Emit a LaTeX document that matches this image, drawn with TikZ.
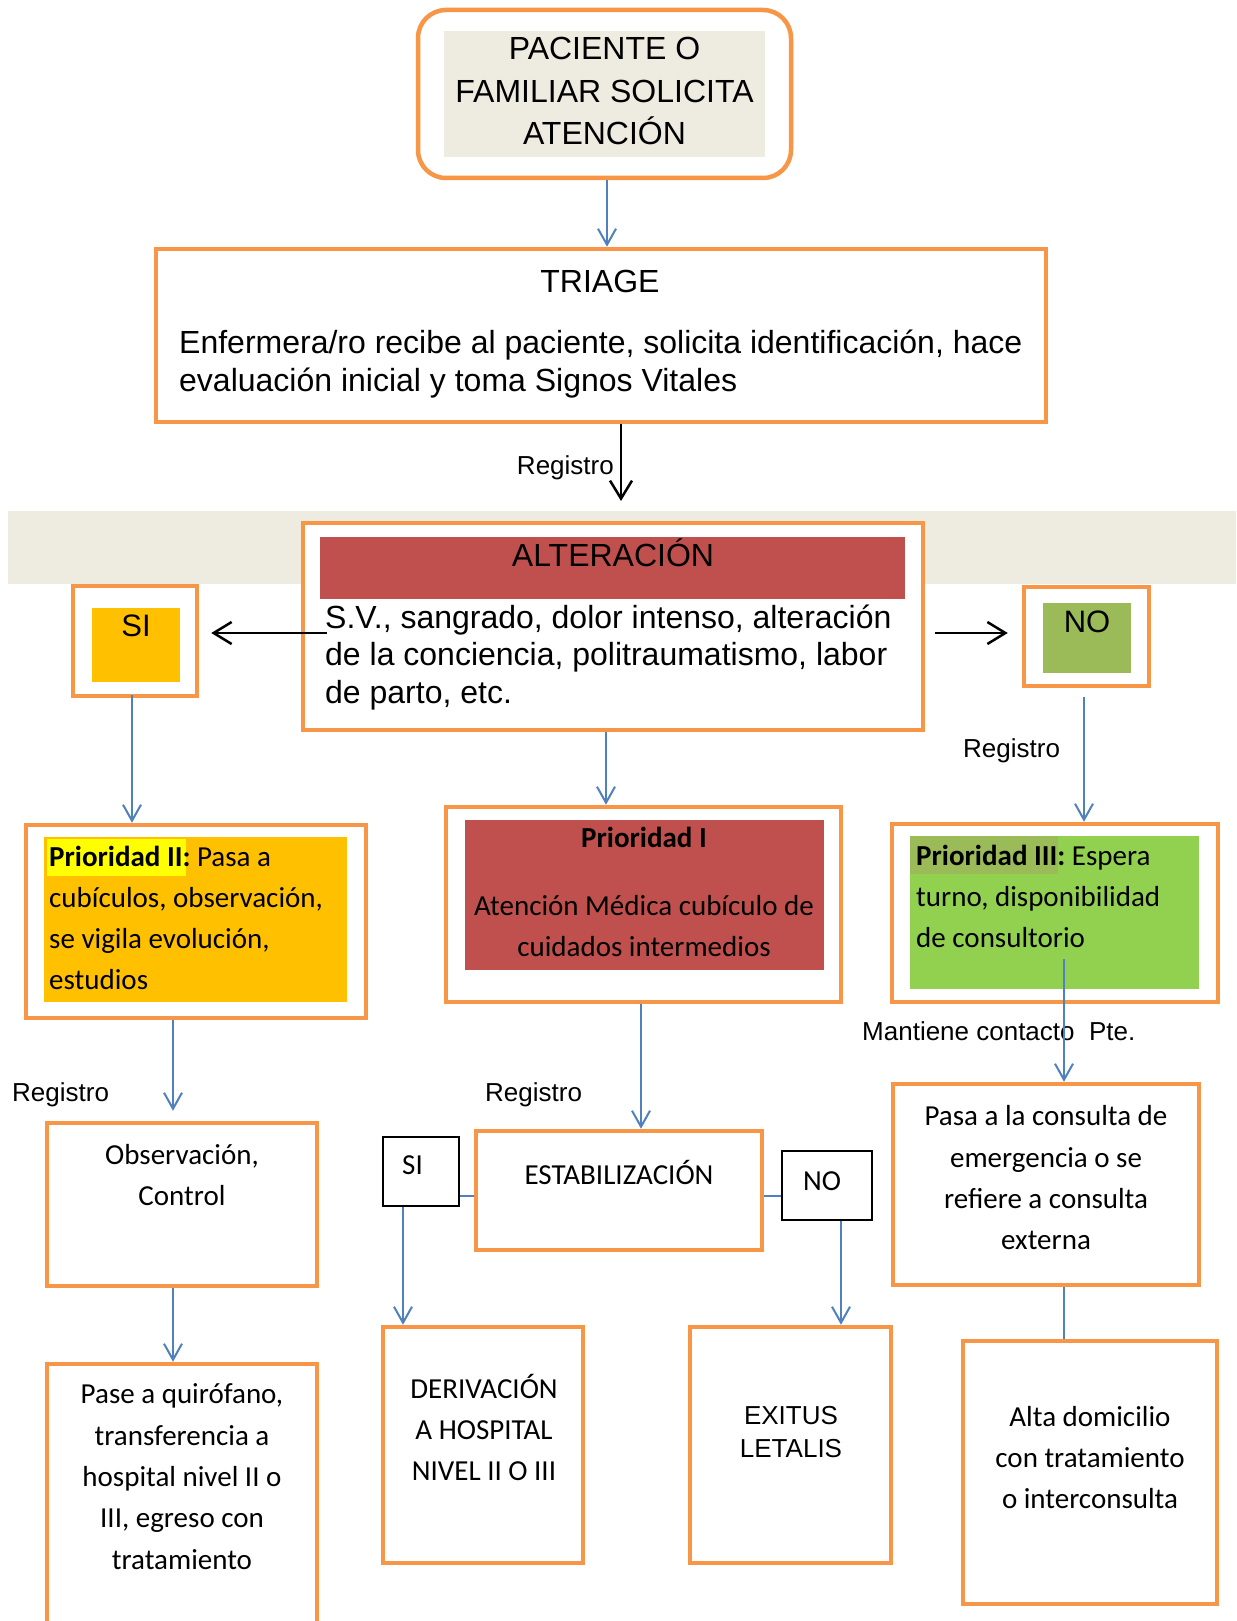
\documentclass[tikz,border=0pt]{standalone}
\usepackage{fontspec}
\setmainfont{Liberation Sans}
\newfontfamily\calfont{Carlito}
\usetikzlibrary{arrows.meta}

\definecolor{boxorange}{HTML}{F79646}
\definecolor{paper}{HTML}{EEECE1}
\definecolor{brick}{HTML}{C0504D}
\definecolor{amber}{HTML}{FFC000}
\definecolor{olive}{HTML}{9BBB59}
\definecolor{lime}{HTML}{92D050}
\definecolor{flowblue}{HTML}{4F81BD}
\definecolor{marker}{HTML}{FFFF00}

% multi-line text nodes are placed by the baseline of their last line
\tikzset{
  obox/.style={draw=boxorange, line width=4.5pt, fill=white, inner sep=0pt, rectangle},
  thinbox/.style={draw=black, line width=1.3pt, fill=white, inner sep=0pt},
  panel/.style={inner sep=0pt, draw=none},
  txt/.style={inner sep=0pt, anchor=base},
  arial/.style={font=\fontsize{32}{37.3}\selectfont},
  smalltxt/.style={font=\fontsize{26}{33.5}\selectfont},
  cal/.style={font=\calfont\fontsize{29}{41}\selectfont},
  flow/.style={draw=flowblue, line width=2pt, -{Straight Barb[length=16pt,width=18pt]}},
  flowplain/.style={draw=flowblue, line width=2pt},
  branch/.style={draw=black, line width=2.5pt, -{Straight Barb[length=18pt,width=22pt]}},
}

\begin{document}
\begin{tikzpicture}[x=1pt,y=-1pt]
\useasboundingbox (0,0) rectangle (1236,1621);
\clip (0,0) rectangle (1236,1621);
\fill[white] (0,0) rectangle (1236,1621);

% x positions of the vertical connectors
\coordinate (colA) at (132,0);
\coordinate (colB) at (606,0);
\coordinate (colC) at (1084,0);
\coordinate (colD) at (173,0);
\coordinate (colE) at (641,0);
\coordinate (colF) at (1064,0);
\coordinate (colG) at (403,0);
\coordinate (colH) at (841,0);
\coordinate (armsy) at (0,633);
\coordinate (linky) at (0,1196);
\coordinate (regend) at (621,501);

% request
\node[obox, rounded corners=28pt, minimum width=373pt, minimum height=168pt] (start) at (604.5,94) {};
\node[panel, fill=paper, minimum width=321pt, minimum height=126pt] (startpanel) at (604.5,94) {};
\node[txt, align=center, font=\fontsize{32}{42.5}\selectfont] (starttext) at (604.5,145) {PACIENTE O\\FAMILIAR SOLICITA\\ATENCIÓN};

% triage
\node[obox, minimum width=890pt, minimum height=173pt] (triage) at (601,335.5) {};
\node[txt, arial] (triagetitle) at (600,292) {TRIAGE};
\node[txt, arial, anchor=base west, align=left] (triagetext) at (179,391) {Enfermera/ro recibe al paciente, solicita identificación, hace\\evaluación inicial y toma Signos Vitales};
\node[txt, smalltxt, anchor=base east] (reg1) at (614,474) {Registro};

% band behind the decision
\node[panel, fill=paper, minimum width=1228pt, minimum height=73pt] (band) at (622,547.5) {};

% decision
\node[obox, minimum width=620pt, minimum height=207pt] (alt) at (613,626.5) {};
\node[panel, fill=brick, minimum width=585pt, minimum height=62pt] (altpanel) at (612.5,568) {};
\node[txt, arial] (alttitle) at (613,566) {ALTERACIÓN};
\node[txt, arial, anchor=base west, align=left] (alttext) at (325,703) {S.V., sangrado, dolor intenso, alteración\\de la conciencia, politraumatismo, labor\\de parto, etc.};

\node[obox, minimum width=124pt, minimum height=110pt] (si) at (135,641) {};
\node[panel, fill=amber, minimum width=88pt, minimum height=74pt] (sipanel) at (136,645) {};
\node[txt, font=\fontsize{31}{37}\selectfont] (silabel) at (136,636) {SI};

\node[obox, minimum width=125pt, minimum height=99pt] (no) at (1086.5,636.5) {};
\node[panel, fill=olive, minimum width=88pt, minimum height=70pt] (nopanel) at (1087,638) {};
\node[txt, font=\fontsize{31}{37}\selectfont] (nolabel) at (1087,632) {NO};

% priorities
\node[obox, minimum width=340pt, minimum height=193pt] (p2) at (196,921.5) {};
\node[panel, fill=amber, minimum width=303pt, minimum height=165pt] (p2panel) at (195.5,919.5) {};
\node[panel, fill=marker, minimum width=139pt, minimum height=37pt] (p2mark) at (116.5,857.5) {};
\node[txt, anchor=base west, align=left, font=\calfont\fontsize{29}{41}\selectfont] (p2text) at (49,989) {\textbf{Prioridad II:} Pasa a\\cubículos, observación,\\se vigila evolución,\\estudios};

\node[obox, minimum width=395pt, minimum height=195pt] (p1) at (643.5,904.5) {};
\node[panel, fill=brick, minimum width=359pt, minimum height=150pt] (p1panel) at (644.5,895) {};
\node[txt, cal] (p1title) at (644,847) {\bfseries Prioridad I};
\node[txt, cal, align=center] (p1text) at (644,956.5) {Atención Médica cubículo de\\cuidados intermedios};

\node[obox, minimum width=326pt, minimum height=178pt] (p3) at (1055,913) {};
\node[panel, fill=lime, minimum width=289pt, minimum height=153pt] (p3panel) at (1054.5,912.5) {};
\node[panel, fill=olive, minimum width=148pt, minimum height=38pt] (p3mark) at (984,855) {};
\node[txt, anchor=base west, align=left, font=\calfont\fontsize{29}{41}\selectfont] (p3text) at (916,947) {\textbf{Prioridad III:} Espera\\turno, disponibilidad\\de consultorio};
\node[txt, smalltxt, anchor=base west] (reg2) at (963,757) {Registro};
\node[txt, smalltxt, anchor=base west] (contact) at (862,1040) {Mantiene contacto\ \ Pte.};

% left column
\node[txt, smalltxt, anchor=base west] (reg3) at (12,1101) {Registro};
\node[obox, minimum width=270pt, minimum height=163pt] (obs) at (182,1204.5) {};
\node[txt, cal, align=center] (obstext) at (182,1205) {Observación,\\Control};
\node[obox, minimum width=270pt, minimum height=300pt] (pase) at (182,1514) {};
\node[txt, align=center, font=\calfont\fontsize{29}{41.3}\selectfont] (pasetext) at (182,1569) {Pase a quirófano,\\transferencia a\\hospital nivel II o\\III, egreso con\\tratamiento};

% middle column
\node[txt, smalltxt, anchor=base west] (reg4) at (485,1101) {Registro};
\node[obox, minimum width=286pt, minimum height=119pt] (estab) at (619,1190.5) {};
\node[txt, cal] (estabtext) at (619,1184) {ESTABILIZACIÓN};
\node[thinbox, minimum width=76pt, minimum height=69pt] (siq) at (421,1171.5) {};
\node[txt, cal] (siqtext) at (412.5,1174) {SI};
\node[thinbox, minimum width=90pt, minimum height=69pt] (noq) at (827,1185.5) {};
\node[txt, cal] (noqtext) at (822,1190) {NO};
\node[obox, minimum width=200pt, minimum height=236pt] (deriv) at (483,1445) {};
\node[txt, cal, align=center] (derivtext) at (484,1480) {DERIVACIÓN\\A HOSPITAL\\NIVEL II O III};
\node[obox, minimum width=201pt, minimum height=236pt] (exitus) at (790.5,1445) {};
\node[txt, smalltxt, align=center] (exitustext) at (791,1457.5) {EXITUS\\LETALIS};

% right column
\node[obox, minimum width=306pt, minimum height=201pt] (consult) at (1046,1184.5) {};
\node[txt, align=center, font=\calfont\fontsize{29}{41.2}\selectfont] (consulttext) at (1046,1249.5) {Pasa a la consulta de\\emergencia o se\\refiere a consulta\\externa};
\node[obox, minimum width=254pt, minimum height=263pt] (alta) at (1090,1472.5) {};
\node[txt, cal, align=center] (altatext) at (1090,1508) {Alta domicilio\\con tratamiento\\o interconsulta};

% connectors
\draw[flow] ([xshift=2.5pt]start.south) -- ([xshift=6pt]triage.north);
\draw[branch] (triage.south -| regend) -- (regend);
\draw[branch, shorten <=-26pt, shorten >=12pt] (alt.west |- armsy) -- (si.east |- armsy);
\draw[branch, shorten <=10pt, shorten >=14pt] (alt.east |- armsy) -- (no.west |- armsy);
\draw[flow, shorten <=-3pt] (si.south -| colA) -- (p2.north -| colA);
\draw[flow] (alt.south -| colB) -- (p1.north -| colB);
\draw[flow, shorten <=9pt] (no.south -| colC) -- (p3.north -| colC);
\draw[flow, shorten <=-45pt] (p3.south -| colF) -- (consult.north -| colF);
\draw[flowplain] (consult.south -| colF) -- (alta.north -| colF);
\draw[flow, shorten >=10pt] (p2.south -| colD) -- (obs.north -| colD);
\draw[flow] (obs.south -| colD) -- (pase.north -| colD);
\draw[flow] (p1.south -| colE) -- (estab.north -| colE);
\draw[flowplain] (siq.east |- linky) -- (estab.west |- linky);
\draw[flowplain] (estab.east |- linky) -- (noq.west |- linky);
\draw[flow] (siq.south -| colG) -- (deriv.north -| colG);
\draw[flow] (noq.south -| colH) -- (exitus.north -| colH);
\end{tikzpicture}
\end{document}
